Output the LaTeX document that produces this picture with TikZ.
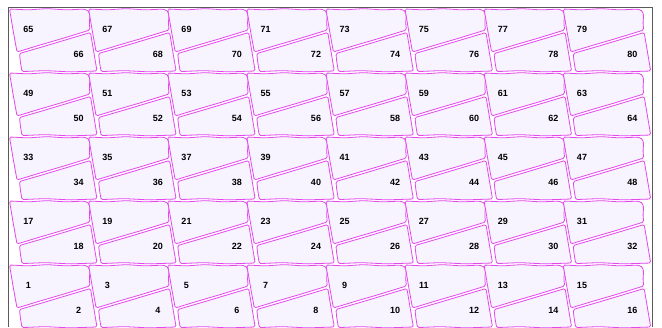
\documentclass[tikz,border=0pt]{standalone}
\usepackage{fontspec}
\newfontfamily\lotfont{Liberation Sans}
\definecolor{lotline}{HTML}{E448EC}
\definecolor{lotfill}{HTML}{F7F3FF}
\definecolor{frameline}{HTML}{5A5A5A}
\begin{document}
\begin{tikzpicture}[x=1pt, y=-1pt,
    lot/.style={draw=lotline, fill=lotfill, line width=0.8pt, rounded corners=1.5pt},
    lotno/.style={font=\lotfont\bfseries\fontsize{9}{9}\selectfont, inner sep=0pt},
    frame/.style={draw=frameline, line width=0.9pt}]
    \useasboundingbox (0,0) rectangle (662,327);
    \fill[white] (0,0) rectangle (662,327);

    % rows of lots, bottom row first
    \foreach \r in {0,...,4} {
        \foreach \c in {0,...,7} {
            \pgfmathtruncatemacro{\odd}{16*\r + 2*\c + 1}
            \pgfmathtruncatemacro{\even}{\odd + 1}
            \begin{scope}[shift={(\c*79.1, 256-\r*64)}]
                \path[lot] (9.5,9) -- (28,9.9) -- (47,8.6) -- (66,9.9) -- (82,9.2)
                    -- (86.5,9.6) -- (89.2,12) -- (89.9,16) -- (89.3,23) -- (90,30)
                    -- (62,38.6) -- (40,45) -- (17,52) -- (13.2,31) -- cycle;
                \path[lot] (19.5,53.5) -- (44,46.4) -- (66,39.8) -- (90.5,32.5)
                    -- (93.6,51) -- (97,71) -- (70,71.9) -- (45,70.6) -- (22,71.6)
                    -- (20.4,62) -- cycle;
                \node[lotno] (lot\odd) at (28.3,29.7) {\odd};
                \node[lotno] (lot\even) at (78.7,54.3) {\even};
            \end{scope}
        }
    }

    \draw[frame] (8,327) -- (8,7.3) -- (652,7.3) -- (652,327);
\end{tikzpicture}
\end{document}
